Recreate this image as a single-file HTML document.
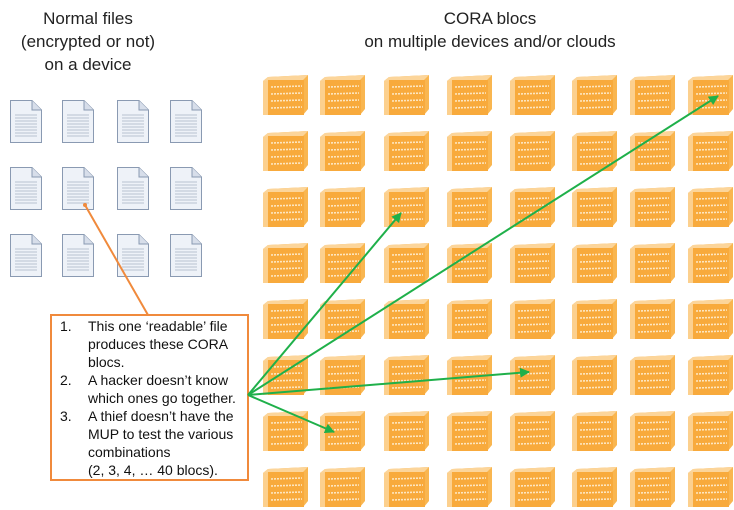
<!DOCTYPE html>
<html><head><meta charset="utf-8"><style>
html,body{margin:0;padding:0;background:#fff;}
svg{display:block;}
text{font-family:"Liberation Sans",sans-serif;}
</style></head><body>
<svg width="734" height="510" viewBox="0 0 734 510" xmlns="http://www.w3.org/2000/svg" xmlns:xlink="http://www.w3.org/1999/xlink">
<defs>
<g id="blk">
  <polygon points="0,6 5,2 45,0 45,34 40,40 0,40" fill="#f9b650"/>
  <polygon points="0,6 5,2 45,0 40,5" fill="#fcd59a"/>
  <polygon points="0,6 5,6 5,40 0,40" fill="#fcd08e"/>
  <rect x="5" y="5" width="36" height="35" fill="#f8aa3c"/>
  <g stroke="#fde6c0" stroke-width="1.6" stroke-dasharray="2 1">
    <line x1="8" y1="12" x2="39" y2="11"/>
    <line x1="8" y1="19" x2="39" y2="18"/>
    <line x1="8" y1="26" x2="39" y2="25"/>
    <line x1="8" y1="33" x2="39" y2="32"/>
  </g>
</g>
<g id="row">
  <use xlink:href="#blk" x="263"/><use xlink:href="#blk" x="320"/><use xlink:href="#blk" x="384"/><use xlink:href="#blk" x="447"/>
  <use xlink:href="#blk" x="510"/><use xlink:href="#blk" x="572"/><use xlink:href="#blk" x="630"/><use xlink:href="#blk" x="688"/>
</g>
<g id="doc">
  <path d="M0.5,0.5 H22 L31.5,10 V42.5 H0.5 Z" fill="#eef2f8" stroke="#8a9ab2"/>
  <path d="M22,0.5 V10 H31.5" fill="#d7deea" stroke="#8a9ab2"/>
  <g stroke="#b8c2d0" stroke-width="1">
    <line x1="5" y1="15" x2="27" y2="15"/><line x1="5" y1="18" x2="27" y2="18"/>
    <line x1="5" y1="21" x2="27" y2="21"/><line x1="5" y1="24" x2="27" y2="24"/>
    <line x1="5" y1="27" x2="27" y2="27"/><line x1="5" y1="30" x2="27" y2="30"/>
    <line x1="5" y1="33" x2="27" y2="33"/><line x1="5" y1="36" x2="27" y2="36"/>
  </g>
</g>
<marker id="ar" markerWidth="10" markerHeight="10" refX="9" refY="5" orient="auto" markerUnits="userSpaceOnUse">
  <path d="M0,0 L10,5 L0,10 Z" fill="#1fb04a"/>
</marker>
</defs>

<text x="88" y="24" font-size="17" text-anchor="middle" fill="#222">Normal files</text>
<text x="88" y="47" font-size="17" text-anchor="middle" fill="#222">(encrypted or not)</text>
<text x="88" y="70" font-size="17" text-anchor="middle" fill="#222">on a device</text>
<text x="490" y="24" font-size="17" text-anchor="middle" fill="#222">CORA blocs</text>
<text x="490" y="47" font-size="17" text-anchor="middle" fill="#222">on multiple devices and/or clouds</text>

<g>
<use xlink:href="#doc" x="10" y="100"/><use xlink:href="#doc" x="62" y="100"/><use xlink:href="#doc" x="117" y="100"/><use xlink:href="#doc" x="170" y="100"/>
<use xlink:href="#doc" x="10" y="167"/><use xlink:href="#doc" x="62" y="167"/><use xlink:href="#doc" x="117" y="167"/><use xlink:href="#doc" x="170" y="167"/>
<use xlink:href="#doc" x="10" y="234"/><use xlink:href="#doc" x="62" y="234"/><use xlink:href="#doc" x="117" y="234"/><use xlink:href="#doc" x="170" y="234"/>
</g>

<use xlink:href="#row" y="75"/>
<use xlink:href="#row" y="131"/>
<use xlink:href="#row" y="187"/>
<use xlink:href="#row" y="243"/>
<use xlink:href="#row" y="299"/>
<use xlink:href="#row" y="355"/>
<use xlink:href="#row" y="411"/>
<use xlink:href="#row" y="467"/>

<line x1="85" y1="205" x2="148" y2="315" stroke="#f08a3c" stroke-width="2"/>
<circle cx="85" cy="205" r="2" fill="#f08a3c"/>

<rect x="51" y="315" width="197" height="165" fill="#fff" stroke="#f08a3c" stroke-width="2"/>
<g font-size="14" fill="#111">
<text x="60" y="331">1.</text><text x="88" y="331">This one ‘readable’ file</text>
<text x="88" y="349">produces these CORA</text>
<text x="88" y="367">blocs.</text>
<text x="60" y="385">2.</text><text x="88" y="385">A hacker doesn’t know</text>
<text x="88" y="403">which ones go together.</text>
<text x="60" y="421">3.</text><text x="88" y="421">A thief doesn’t have the</text>
<text x="88" y="439">MUP to test the various</text>
<text x="88" y="457">combinations</text>
<text x="88" y="475">(2, 3, 4, … 40 blocs).</text>
</g>

<g stroke="#1fb04a" stroke-width="2" fill="none" marker-end="url(#ar)">
<line x1="248" y1="395" x2="401" y2="213"/>
<line x1="248" y1="395" x2="718" y2="96"/>
<line x1="248" y1="395" x2="529" y2="372"/>
<line x1="248" y1="395" x2="334" y2="432"/>
</g>
</svg>
</body></html>
